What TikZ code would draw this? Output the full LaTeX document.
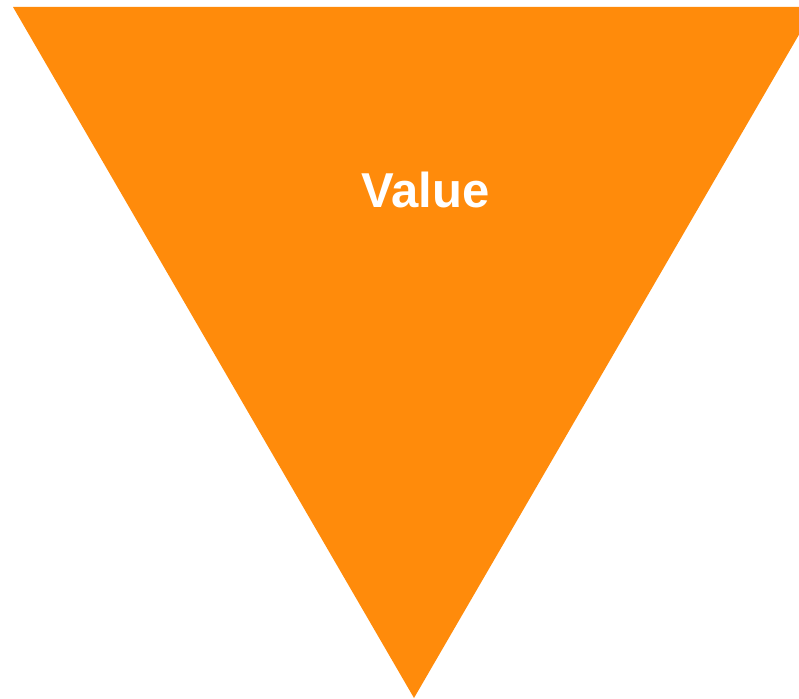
\documentclass[tikz,border=0pt]{standalone}
\usepackage{fontspec}
\setmainfont{Liberation Sans}
\definecolor{valueorange}{RGB}{255,139,11}
\begin{document}
\begin{tikzpicture}[x=1pt,y=-1pt]
\useasboundingbox (0,0) rectangle (799,698);
\clip (0,0) rectangle (799,698);
\fill [valueorange] (13,7) -- (815,7) -- (414,698) -- cycle;
\node (value) [anchor=base, inner sep=0pt, text=white, font=\bfseries\fontsize{49}{58}\selectfont] at (425.5,207) {Value};
\end{tikzpicture}
\end{document}
